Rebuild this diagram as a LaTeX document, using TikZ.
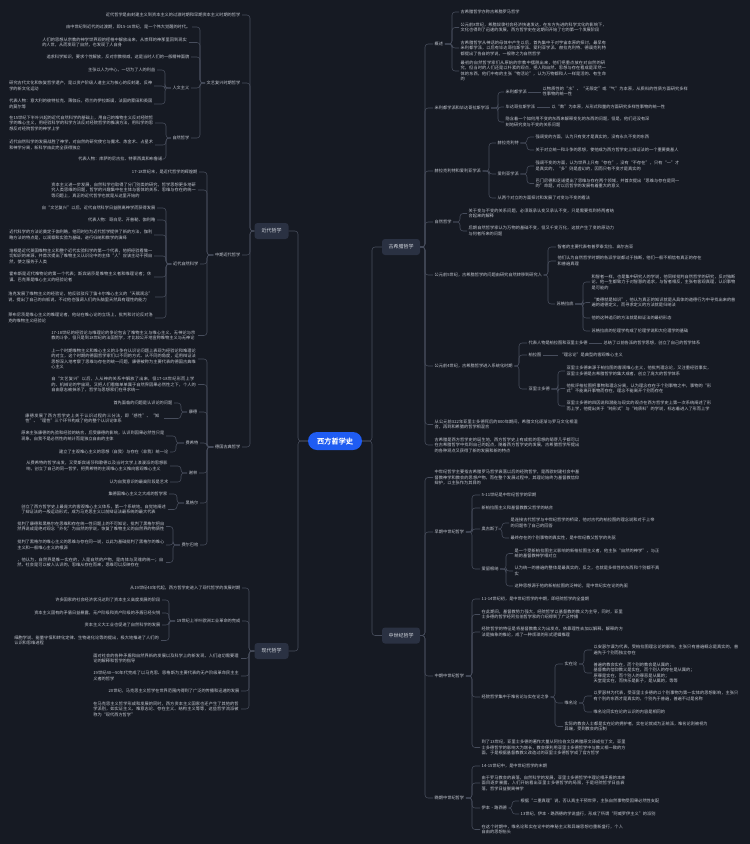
\documentclass[tikz,border=0pt]{standalone}
\usepackage{fontspec}
\setmainfont{Noto Sans CJK SC}
\newfontfamily\rootfnt[FakeBold=1.2]{Noto Sans CJK SC}
\XeTeXlinebreaklocale "zh"
\XeTeXlinebreakskip = 0pt plus 1pt
\definecolor{bg}{HTML}{161A23}
\definecolor{txt}{HTML}{C5C9D2}
\definecolor{ln}{HTML}{474D5C}
\definecolor{boxc}{HTML}{2A3142}
\definecolor{boxt}{HTML}{D5D9E0}
\definecolor{rootc}{HTML}{1F5CF2}
\tikzset{
  base/.style={font=\fontsize{4.2}{5.5}\selectfont, text=txt, inner xsep=1.5pt, inner ysep=0.5pt},
  ltxt/.style={base, anchor=east},
  rtxt/.style={base, anchor=west},
  tw/.style={text width=#1pt, align=left},
  conn/.style={draw=ln, line width=0.55pt, rounded corners=3pt},
  lvl/.style={fill=boxc, rounded corners=3pt, minimum width=34pt, minimum height=16pt, inner sep=1pt, font=\fontsize{5}{6}\selectfont, text=boxt},
  rootnode/.style={fill=rootc, rounded corners=9pt, minimum width=54pt, minimum height=18pt, inner sep=1pt, font=\rootfnt\fontsize{7.2}{8}\selectfont, text=white}
}
\newcommand\LL[3]{\foreach \ch in {#3}{\draw[conn] (#1.west) -- (#1.west -| #2,0) |- (\ch.east);}}
\newcommand\RR[3]{\foreach \ch in {#3}{\draw[conn] (#1.east) -- (#1.east -| #2,0) |- (\ch.west);}}
\begin{document}
\begin{tikzpicture}[x=1pt,y=-1pt]
\fill[bg] (0,0) rectangle (750,844);
\useasboundingbox (0,0) rectangle (750,844);

% ---------- level 0/1 ----------
\node[rootnode] (root) at (335,441) {西方哲学史};
\node[lvl] (NJ) at (271.5,231) {近代哲学};
\node[lvl] (NX) at (271.5,651) {现代哲学};
\node[lvl, minimum width=38pt] (NG) at (401,247) {古希腊哲学};
\node[lvl, minimum width=38pt] (NZ) at (401,635.5) {中世纪哲学};

% ---------- 近代哲学 ----------
\node[ltxt] (L0) at (242,15) {近代哲学是由封建主义到资本主义的过渡时期和早期资本主义时期的哲学};
\node[ltxt] (A) at (242,83) {文艺复兴时期哲学};
\node[ltxt] (a1) at (192,27) {由中世纪到近代的过渡期，即15-16世纪，是一个伟大觉醒的时代。};
\node[ltxt, tw=145] (a2) at (189,42.5) {人们的思想从宗教的神学世界观的桎梏中解放出来，从崇拜的神那里回到现实的人世，从而发现了自然，也发现了人自身};
\node[ltxt] (a3) at (191,57) {追求科学知识，要求个性解放，反对宗教权威，这是当时人们的一般精神面貌};
\node[ltxt] (H) at (191,88) {人文主义};
\node[ltxt] (h1) at (157,70) {主张以人为中心，一切为了人的利益};
\node[ltxt, tw=143] (h2) at (154,86) {研究古代文化和恢复哲学遗产，是以资产阶级人道主义为核心的反封建、反神学的新文化运动};
\node[ltxt, tw=143] (h3) at (154,104) {代表人物：意大利的彼特拉克、薄伽丘，荷兰的伊拉斯谟，法国的蒙田和英国的莫尔等};
\node[ltxt] (NP) at (191,138) {自然哲学};
\node[ltxt, tw=144] (n1) at (155,123) {在15世纪下半叶兴起的近代自然科学的基础上，用自己的唯物主义反对经院哲学的唯心主义，用经验科学的科学方法反对经院哲学的推演方法，用科学的思想反对经院哲学的神学上学};
\node[ltxt, tw=144] (n2) at (155,145) {近代自然科学的发展战胜了神学，对自然的研究使它与魔术、炼金术、占星术和神学分离，新科学由此完全获得独立};
\node[ltxt] (n3) at (164,159) {代表人物：库萨的尼古拉、特莱西奥和布鲁诺};

\node[ltxt] (B) at (242,255) {中期近代哲学};
\node[ltxt] (j1) at (199,172) {17-18世纪末，是近代哲学的辉煌期};
\node[ltxt, tw=145] (j2) at (198,190) {资本主义进一步发展，自然科学也取得了分门别类的研究，哲学思想更多地研究人类思维的问题，哲学的兴趣集中在主体与客体的关系、思维与存在的统一等问题上，真正的近代哲学也就是从这里开始的};
\node[ltxt] (J3) at (200,264) {近代自然科学};
\node[ltxt] (v1) at (157,208) {自“文艺复兴”以后，近代自然科学日益脱离神学而获得发展};
\node[ltxt] (v2) at (157,220) {代表人物：哥白尼、开普勒、伽利略};
\node[ltxt, tw=143] (v3) at (154,235) {近代科学的方法论奠定于伽利略，他同时也为近代哲学提供了新的方法，伽利略方法的特点是，以观察和实验为基础，进行归纳和数学的演绎};
\node[ltxt, tw=143] (v4) at (154,256) {培根是近代英国唯物主义和整个近代实验科学的第一个代表，他把经验看做一切知识的来源，并首次提出了唯物主义认识论中的主体“人”应该主动干预自然，使之服务于人类};
\node[ltxt, tw=143] (v5) at (154,277) {霍布斯是近代唯物论的第一个代表；斯宾诺莎是唯物主义者和唯理论者；休谟、巴克莱是唯心主义的经验论者};
\node[ltxt, tw=145] (v6) at (155,297) {洛克发展了唯物主义的经验论，他反驳驳斥了笛卡尔唯心主义的“天赋观念”说，提出了自己的白板说，不过他也强调人们的头脑里天然具有理性的能力};
\node[ltxt, tw=145] (v7) at (155,318) {莱布尼茨是唯心主义的唯理论者，他站在唯心论的立场上，批判和讨论反对洛克的唯物主义经验论};
\node[ltxt, tw=145] (j4) at (198,335.5) {17-18世纪的经验论与唯理论的争论包含了唯物主义与唯心主义、无神论与宗教的斗争，但只是到18世纪的法国哲学，才比较公开地宣称唯物主义与无神论};

\node[ltxt] (C) at (242,447) {德国古典哲学};
\node[ltxt, tw=145] (c1) at (198,359) {上一个时期唯物主义和唯心主义的斗争在认识论问题上表现为经验论和唯理论的对立，这个时期的德国哲学家们以不同的方式、从不同的角度，运用辩证法思想深入地考察了思维与存在的统一问题，康德被称为主要代表的德国古典唯心主义};
\node[ltxt, tw=145] (c2) at (198,384.5) {自“文艺复兴”以后，人从神的关系中解放了出来，但17-18世纪形而上学的、机械论的宇宙观，又把人们看做单单属于自然界因果必然性之下，个人的自由意志被抹杀了，哲学与思想家们在寻求统一};
\node[ltxt] (KD) at (199,412) {康德};
\node[ltxt] (k1) at (174,403) {首先面临的问题是认识论的问题};
\node[ltxt, tw=137] (k2) at (164,418.5) {康德发展了西方哲学史上关于认识过程的三分法，即“感性”、“知性”、“理性”三个环节构成了他的整个认识论体系};
\node[ltxt] (FX) at (200,443) {费希特};
\node[ltxt, tw=143] (f1) at (166,436) {原来主张康德的先验和经验的结合，后受康德的影响，认识到因果必然性只是现象，自我不是必然性的统计而是独立自由的主体};
\node[ltxt] (f2) at (170,452) {建立了主观唯心主义的思想（自我）与存在（非我）统一论};
\node[ltxt] (XL) at (199,473) {谢林};
\node[ltxt, tw=142] (x1) at (170,466) {从费希特的哲学出发，又受斯宾诺莎和歌德以及当时文学上浪漫派的思想影响，创立了自己的同一哲学，把费希特的主观唯心主义推向客观唯心主义};
\node[ltxt] (x2) at (170,482) {认为自我意识的最高阶段是艺术};
\node[ltxt] (HG) at (200,503) {黑格尔};
\node[ltxt] (y1) at (169,494) {集德国唯心主义之大成的哲学家};
\node[ltxt, tw=145] (y2) at (168,509.5) {创立了西方哲学史上最庞大的客观唯心主义体系，第一个系统地、自觉地阐述了辩证法的一般运动形式，成为马克思主义以前辩证法最系统的最大代表};
\node[ltxt] (FE) at (200,545) {费尔巴哈};
\node[ltxt, tw=147] (b1) at (166,526.5) {批判了康德和黑格尔在思维和存在统一性问题上的不可知论，批判了黑格尔把自然界说成是绝对观念“外化”为自然的学说，恢复了唯物主义的自然界的物质性};
\node[ltxt, tw=147] (b2) at (166,545) {批判了黑格尔的唯心主义的思维与存在同一说，以此为基础批判了黑格尔的唯心主义和一般唯心主义的根源};
\node[ltxt, tw=147] (b3) at (166,562.5) {，他认为，自然界是唯一实在的，人是自然的产物，是肉体与灵魂的统一；自然、社会是可以被人认识的，思维从存在而来，思维可以反映存在};

% ---------- 现代哲学 ----------
\node[ltxt] (w1) at (242,588) {从19世纪40年代起，西方哲学史进入了现代哲学的发展时期};
\node[ltxt] (W2) at (242,621) {19世纪上半叶欧洲工业革命的完成};
\node[ltxt] (w2a) at (162,600) {许多国家的社会经济状况达到了资本主义高度发展的阶段};
\node[ltxt] (w2b) at (162,613) {资本主义固有的矛盾日益暴露，无产阶级和资产阶级的矛盾已经尖锐};
\node[ltxt] (w2c) at (162,625) {资本主义大工业也促进了自然科学的发展};
\node[ltxt, tw=145] (w2d) at (161,640.5) {细胞学说、能量守恒和转化定律、生物进化论等的提出，极大地推进了人们的认识和思维进程};
\node[ltxt, tw=146] (w3) at (241,658.5) {面对社会的各种矛盾和自然界新的发展以及科学上的新发现，人们迫切需要理论的解释和哲学的指导};
\node[ltxt, tw=146] (w4) at (241,676) {19世纪40—50年代完成了以马克思、恩格斯为主要代表的无产阶级革命民主主义者的哲学};
\node[ltxt] (w5) at (241,691) {20世纪，马克思主义哲学在世界范围内得到了广泛的传播和迅速的发展};
\node[ltxt, tw=146] (w6) at (241,709) {在马克思主义哲学形成和发展的同时，西方资本主义国家也还产生了其他的哲学派别，如实证主义、唯意志论、存在主义、结构主义等等，这些哲学流派被称为“现代西方哲学”};

% ---------- 古希腊哲学 ----------
\node[rtxt] (G1) at (433,44) {概述};
\node[rtxt] (o1) at (459,12) {古希腊哲学亦称古希腊罗马哲学};
\node[rtxt, tw=146] (o2) at (459,27.5) {公元前8世纪，希腊奴隶社会经济快速发达，在东方先进的科学文化的影响下，文化也得到了迅速的发展，西方哲学史在这期间开始了它的第一个发展阶段};
\node[rtxt, tw=146] (o3) at (459,48) {古希腊哲学从神话的母体中产生以后，首先集中于对宇宙本原的探讨，最早有米利都学派，以后有毕达哥拉斯学派、爱利亚学派、赫拉克利特、德谟克利特都提出了各自的学说，一般称之为自然哲学};
\node[rtxt, tw=146] (o4) at (459,71) {最初的自然哲学家们从原始的宗教中摆脱出来，他们把重点放在对自然的研究，但当时的人们还是以朴素的观点，把人和自然、思想与存在看成是浑然一体的东西，他们中有的主张“物活论”，认为万物都和人一样是活的、有生命的};
\node[rtxt] (G2) at (433,108) {米利都学派和毕达哥拉斯学派};
\node[rtxt] (M1) at (504,92) {米利都学派};
\node[rtxt, tw=146] (m1a) at (541,91.5) {以物质性的“水”、“无限定”或“气”为本原，从质料的性质方面研究多样性事物的统一性};
\node[rtxt] (M2) at (504,107) {毕达哥拉斯学派};
\node[rtxt] (m2a) at (550,107) {以“数”为本原，从形式和量的方面研究多样性事物的统一性};
\node[rtxt, tw=144] (m3) at (504,122) {隐含着一个如何用不变的东西来解释变化的东西的问题，但是，他们还没有深刻地研究变与不变的关系问题};
\node[rtxt] (G3) at (433,171) {赫拉克利特和爱利亚学派};
\node[rtxt] (K1) at (496,143) {赫拉克利特};
\node[rtxt] (k1a) at (534,137) {强调变的方面，认为只有变才是真实的，没有永久不变的东西};
\node[rtxt] (k1b) at (534,150) {关于对立统一和斗争的思想，使他成为西方哲学史上辩证法的一个重要奠基人};
\node[rtxt] (K2) at (496,174) {爱利亚学派};
\node[rtxt, tw=144] (k2a) at (534,166) {强调不变的方面，认为世界上只有“存在”，没有“不存在”，只有“一”才是真实的，“多”则是虚幻的，因而只有不变才是真实的};
\node[rtxt, tw=144] (k2b) at (534,183.5) {巴门尼德和芝诺提出了思维与存在两个领域，并首次提出“思维与存在是同一的”命题，对以后哲学的发展有着重大的意义};
\node[rtxt] (k3) at (496,198) {从两个对立的方面探讨和发展了对变与不变的看法};
\node[rtxt] (G4) at (433,222) {自然哲学};
\node[rtxt, tw=146] (z1) at (467,213.5) {关于变与不变的关系问题，必须既承认变又承认不变，只是需要找到将两者结合起来的解释};
\node[rtxt, tw=146] (z2) at (467,231) {后期自然哲学家认为万物的基础不变，但又千变万化，这就产生了变的原动力与何者所来的问题};
\node[rtxt] (G5) at (433,275) {公元前5世纪，古希腊哲学的问题由研究自然转移到研究人};
\node[rtxt] (g5a) at (556,247) {智者的主要代表有普罗泰戈拉、高尔吉亚};
\node[rtxt, tw=144] (g5b) at (556,261) {他们认为自然哲学时期的各派学说都过于独断，他们一般不相信有真正的存在和普遍真理};
\node[rtxt] (SG) at (555,304) {苏格拉底};
\node[rtxt, tw=144] (s1) at (590,282) {和智者一样，也是集中研究人的学说，他同样批判自然哲学的研究，反对独断论，他一生都致力于对智慧的追求，与智者相反，主张有客观真理，认识事物是可能的};
\node[rtxt, tw=144] (s2) at (590,302.5) {“美德就是知识”，他认为真正的知识就是从具体的道德行为中寻找出来的普遍的道德定义，而寻求定义的方法就是归纳法};
\node[rtxt] (s3) at (590,318) {他的这种追问的方法就是辩证法的最初形态};
\node[rtxt] (s4) at (590,331) {苏格拉底的伦理学构成了伦理学说和大伦理学的基础};
\node[rtxt] (G6) at (433,366) {公元前4世纪，古希腊哲学进入系统化时期};
\node[rtxt] (P1) at (527,343) {代表人物是柏拉图和亚里士多德};
\node[rtxt] (p1a) at (602,343) {总结了以前各派的哲学思想，创立了自己的哲学体系};
\node[rtxt] (P2) at (527,355) {柏拉图};
\node[rtxt] (p2a) at (558,355) {“理念论”是典型的客观唯心主义};
\node[rtxt] (P3) at (527,389) {亚里士多德};
\node[rtxt, tw=145] (q1) at (565,371) {亚里士多德来源于柏拉图的客观唯心主义，他批判理念论，又注重经验事实，亚里士多德是古希腊哲学的集大成者，创立了庞大的哲学体系};
\node[rtxt, tw=145] (q2) at (565,388.5) {他批评柏拉图把事物和理念分离，认为理念存在于个别事物之中，事物的“形式”不能离开事物而存在，理念不能离开个别而存在};
\node[rtxt, tw=145] (q3) at (565,406) {亚里士多德的四因说和潜能与现实的观点在西方哲学史上第一次系统阐述了形而上学，他提出关于“纯形式”与“纯质料”的学说，标志着进入了形而上学};
\node[rtxt, tw=144] (G7) at (433,424.5) {从公元前322年亚里士多德死后的800年期间，希腊文化逐渐与罗马文化相混合，再到和希腊的哲学相混合};
\node[rtxt, tw=145] (G8) at (433,445) {古希腊是西方哲学史的诞生地，西方哲学史上有成就的思想的萌芽几乎都可以在古希腊哲学中找到自己的起点，随着西方哲学史的发展，古希腊哲学所提出的各种观点又获得了新的发展和新的特点};

% ---------- 中世纪哲学 ----------
\node[rtxt, tw=145] (C1) at (433,477.5) {中世纪哲学主要指古希腊罗马哲学衰落以后的经院哲学，是西欧封建社会中基督教神学和教会的思想产物，而在整个发展过程中，其理论始终为基督教信仰辩护，以主张作为其目的};
\node[rtxt] (E) at (433,532) {早期中世纪哲学};
\node[rtxt] (e1) at (480,495) {5-11世纪是中世纪哲学的早期};
\node[rtxt] (e2) at (480,508) {新柏拉图主义和基督教教父哲学的结合};
\node[rtxt] (AG) at (480,529) {奥古斯丁};
\node[rtxt, tw=144] (e3a) at (509,523) {是连接古代哲学与中世纪哲学的桥梁，他对古代的柏拉图的理念说和对于上帝的问题作了自己的回答};
\node[rtxt] (e3b) at (509,538) {最终存在的个别事物的真实性，是中世纪教父哲学的先驱};
\node[rtxt] (EL) at (480,569) {爱留根纳};
\node[rtxt, tw=145] (e4a) at (513,553.5) {是一个受新柏拉图主义影响的新柏拉图主义者，他主张“自然的神学”，与正统的基督教神学相对立};
\node[rtxt, tw=145] (e4b) at (513,571) {认为统一的普遍的整体是最真实的，反之，也就是多样性的东西和个别都不真实};
\node[rtxt] (e4c) at (513,586) {这种思想源于他的新柏拉图的泛神论，是中世纪实在论的先驱};
\node[rtxt] (MM) at (433,676) {中期中世纪哲学};
\node[rtxt] (d1) at (480,599) {11-14世纪初，是中世纪哲学的中期，即经院哲学的全盛期};
\node[rtxt, tw=142] (d2) at (480,614.5) {在此期间，基督教势力强大，经院哲学以基督教的教义为主导，同时，亚里士多德的哲学经阿拉伯哲学家的介绍得到了广泛传播};
\node[rtxt, tw=142] (d3) at (480,632) {经院哲学的特征是将基督教教义为出发点，依靠理性去加以解释，解释的方法是抽象的推论，成了一种烦琐的形式逻辑推理};
\node[rtxt] (D4) at (480,697) {经院哲学集中于唯名论与实在论之争};
\node[rtxt] (R1) at (563,664) {实在论};
\node[rtxt, tw=145] (r1a) at (592,650) {以安瑟尔谟为代表，受柏拉图理念论的影响，主张只有普遍概念是真实的，普遍先于个别而独立存在};
\node[rtxt, align=left] (r1b) at (592,673) {普遍的教会实在，而个别的教会是从属的；\\基督教的信仰教义是实在，而个别人的存在是从属的；\\原罪是实在，而个别人的罪恶是从属的；\\天堂是实在，而快乐是影子，是从属的，等等};
\node[rtxt] (R2) at (563,703) {唯名论};
\node[rtxt, tw=145] (r2a) at (592,696) {以罗瑟林为代表，受亚里士多德的以个别事物为第一实体的思想影响，主张只有个别的东西才是真实的，个别先于普遍，普遍不过是名称};
\node[rtxt] (r2b) at (592,712) {唯名论同实在论的认识的内容是相同的};
\node[rtxt, tw=143] (r3) at (563,726.5) {实际的教会人士都是实在论的拥护者，实在论就成为正统派，唯名论则被视为异端，受到教会的压制};
\node[rtxt, tw=144] (d5) at (480,747.5) {到了13世纪，亚里士多德的著作大量从阿拉伯文及希腊原文译成拉丁文，亚里士多德哲学的影响大为增长，教会便利用亚里士多德哲学中与教义相一致的方面，于是根据基督教教义改造过的亚里士多德哲学成了官方哲学};
\node[rtxt] (LA) at (433,798) {晚期中世纪哲学};
\node[rtxt] (l1) at (480,766) {14-15世纪中，是中世纪哲学的末期};
\node[rtxt, tw=144] (l2) at (480,783) {由于罗马教会的衰落，自然科学的发展，亚里士多德哲学中理论相矛盾的本来面目逐步暴露，人们开始看出亚里士多德哲学的局限，于是经院哲学日益衰落，哲学日益脱离神学};
\node[rtxt] (IB) at (480,808) {伊本·路西德};
\node[rtxt] (l3a) at (519,801) {根据“二重真理”说，否认真主干预世界，主张自然事物受因果必然性支配};
\node[rtxt] (l3b) at (519,814) {13世纪，伊本·路西德的学说盛行，形成了所谓“阿威罗伊主义”的派别};
\node[rtxt, tw=142] (l4) at (480,829.5) {在这个时期中，唯名论和实在论中的神秘主义和异端思想也重新盛行，个人自由的思想抬头};

% ---------- connectors ----------
\LL{root}{298}{NJ,NX}
\RR{root}{372}{NG,NZ}
\LL{NJ}{250}{L0,A,B,C}
\LL{A}{200}{a1,a2,a3,H,NP}
\LL{H}{165}{h1,h2,h3}
\LL{NP}{166}{n1,n2,n3}
\LL{B}{207}{j1,j2,J3,j4}
\LL{J3}{166}{v1,v2,v3,v4,v5,v6,v7}
\LL{C}{207}{c1,c2,KD,FX,XL,HG,FE}
\LL{KD}{181}{k1,k2}
\LL{FX}{176}{f1,f2}
\LL{XL}{181}{x1,x2}
\LL{HG}{177}{y1,y2}
\LL{FE}{173}{b1,b2,b3}
\LL{NX}{249}{w1,W2,w3,w4,w5,w6}
\LL{W2}{169}{w2a,w2b,w2c,w2d}

\RR{NG}{425}{G1,G2,G3,G4,G5,G6,G7,G8}
\RR{G1}{452}{o1,o2,o3,o4}
\RR{G2}{498}{M1,M2,m3}
\draw[conn] (M1.east) -- (M1.east -| m1a.west);
\draw[conn] (M2.east) -- (m2a.west);
\RR{G3}{489}{K1,K2,k3}
\RR{K1}{527}{k1a,k1b}
\RR{K2}{527}{k2a,k2b}
\RR{G4}{460}{z1,z2}
\RR{G5}{548}{g5a,g5b,SG}
\RR{SG}{583}{s1,s2,s3,s4}
\RR{G6}{519}{P1,P2,P3}
\draw[conn] (P1.east) -- (p1a.west);
\draw[conn] (P2.east) -- (p2a.west);
\RR{P3}{558}{q1,q2,q3}
\RR{NZ}{425}{C1,E,MM,LA}
\RR{E}{472}{e1,e2,AG,EL}
\RR{AG}{502}{e3a,e3b}
\RR{EL}{506}{e4a,e4b,e4c}
\RR{MM}{472}{d1,d2,d3,D4,d5}
\RR{D4}{555}{R1,R2,r3}
\RR{R1}{584}{r1a,r1b}
\RR{R2}{584}{r2a,r2b}
\RR{LA}{472}{l1,l2,IB,l4}
\RR{IB}{512}{l3a,l3b}
\end{tikzpicture}
\end{document}
